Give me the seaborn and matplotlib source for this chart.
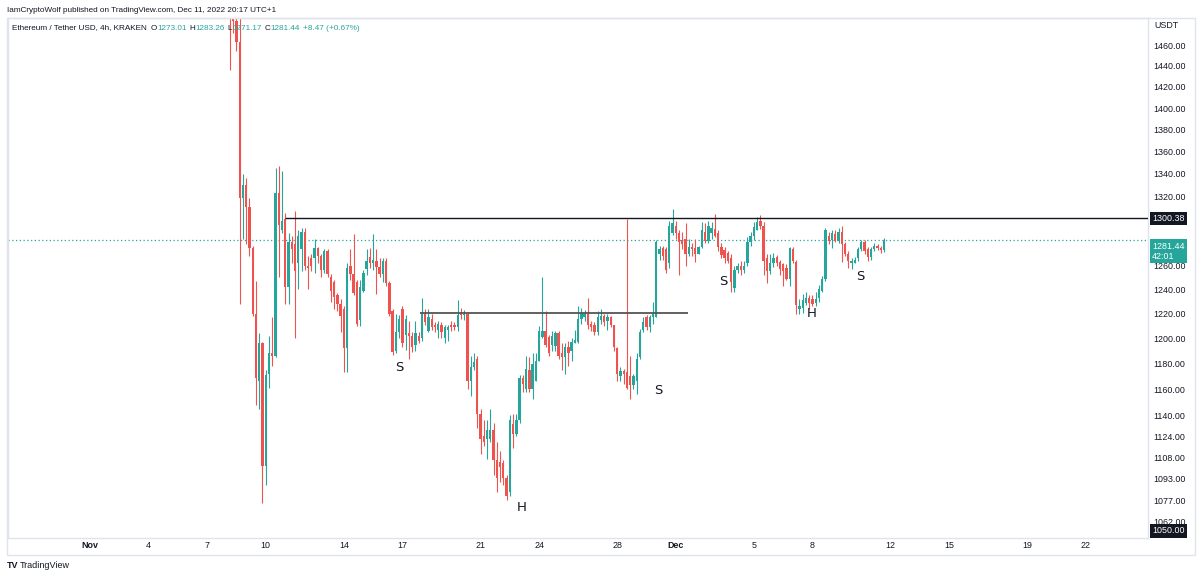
import numpy as np
import pandas as pd
import matplotlib
matplotlib.use("Agg")
import matplotlib.pyplot as plt
from matplotlib.patches import Rectangle
from matplotlib.ticker import NullLocator, FixedLocator, FixedFormatter
import seaborn as sns

# ETH/USDT 4h candles from Nov 7 2022 00:00 (UTC+1), one row per day
opens = [
    1618, 1608, 1596, 1600, 1572, 1578,
    1570, 1590, 1520, 1484, 1463, 1318,
    1330, 1310, 1275, 1220, 1166, 1196,
    1102, 1172, 1188, 1186, 1323, 1290,
    1300, 1242, 1280, 1278, 1262, 1274,
    1289, 1260, 1266, 1266, 1275, 1268,
    1256, 1272, 1250, 1246, 1235, 1228,
    1224, 1192, 1260, 1253, 1246, 1215,
    1239, 1257, 1267, 1262, 1264, 1259,
    1253, 1264, 1245, 1222, 1190, 1205,
    1224, 1203, 1204, 1202, 1195, 1202,
    1200, 1220, 1206, 1216, 1211, 1207,
    1211, 1200, 1207, 1211, 1211, 1209,
    1220, 1219, 1220, 1166, 1177, 1184,
    1141, 1124, 1122, 1122, 1129, 1106,
    1105, 1104, 1093, 1083, 1133, 1126,
    1136, 1169, 1160, 1175, 1160, 1166,
    1182, 1201, 1206, 1201, 1195, 1194,
    1204, 1188, 1185, 1193, 1190, 1196,
    1197, 1216, 1217, 1220, 1212, 1211,
    1205, 1215, 1218, 1214, 1217, 1211,
    1192, 1170, 1174, 1173, 1170, 1163,
    1166, 1185, 1207, 1217, 1209, 1217,
    1217, 1270, 1275, 1274, 1262, 1288,
    1294, 1288, 1282, 1283, 1270, 1276,
    1275, 1270, 1276, 1289, 1281, 1288,
    1291, 1288, 1276, 1273, 1271, 1266,
    1241, 1256, 1260, 1256, 1262, 1280,
    1285, 1290, 1298, 1294, 1266, 1255,
    1262, 1267, 1263, 1261, 1258, 1249,
    1274, 1263, 1224, 1225, 1229, 1233,
    1232, 1229, 1233, 1239, 1249, 1285,
    1282, 1287, 1281, 1289, 1278, 1270,
    1262, 1262, 1266, 1274, 1280, 1274,
    1267, 1274, 1277, 1275, 1273.01,
]
highs = [
    1625, 1615, 1610, 1606, 1585, 1590,
    1600, 1610, 1535, 1500, 1495, 1340,
    1336, 1318, 1277, 1247, 1204, 1197,
    1175, 1202, 1217, 1345, 1347, 1342,
    1305, 1288, 1285, 1307, 1290, 1292,
    1292, 1268, 1270, 1283, 1276, 1270,
    1274, 1274, 1253, 1248, 1237, 1232,
    1226, 1262, 1274, 1287, 1248, 1248,
    1256, 1274, 1275, 1287, 1274, 1266,
    1266, 1266, 1247, 1224, 1220, 1219,
    1226, 1219, 1214, 1205, 1214, 1205,
    1233, 1224, 1224, 1220, 1213, 1214,
    1213, 1211, 1211, 1214, 1213, 1231,
    1225, 1223, 1221, 1186, 1188, 1186,
    1145, 1136, 1136, 1145, 1134, 1120,
    1113, 1106, 1095, 1140, 1141, 1141,
    1171, 1171, 1186, 1185, 1188, 1188,
    1210, 1250, 1222, 1203, 1206, 1206,
    1206, 1196, 1196, 1198, 1200, 1207,
    1226, 1225, 1223, 1233, 1214, 1213,
    1222, 1224, 1220, 1220, 1218, 1211,
    1193, 1177, 1176, 1300, 1186, 1172,
    1188, 1208, 1217, 1219, 1219, 1230,
    1282, 1277, 1277, 1276, 1298, 1309,
    1298, 1290, 1289, 1296, 1283, 1279,
    1283, 1277, 1297, 1296, 1298, 1297,
    1304, 1290, 1279, 1276, 1272, 1270,
    1260, 1262, 1264, 1264, 1284, 1289,
    1297, 1302, 1303, 1297, 1270, 1270,
    1271, 1269, 1265, 1262, 1261, 1276,
    1276, 1265, 1232, 1236, 1238, 1235,
    1235, 1238, 1244, 1251, 1292, 1289,
    1290, 1290, 1292, 1294, 1280, 1272,
    1266, 1267, 1276, 1282, 1282, 1276,
    1276, 1279, 1278, 1277, 1283.26,
]
lows = [
    1600, 1590, 1585, 1565, 1560, 1568,
    1545, 1436, 1472, 1455, 1228, 1283,
    1278, 1268, 1218, 1148, 1145, 1075,
    1088, 1161, 1178, 1185, 1250, 1288,
    1228, 1228, 1262, 1200, 1240, 1255,
    1256, 1240, 1255, 1254, 1262, 1250,
    1254, 1250, 1230, 1224, 1222, 1205,
    1173, 1173, 1248, 1235, 1210, 1210,
    1238, 1252, 1258, 1256, 1236, 1250,
    1246, 1243, 1218, 1187, 1188, 1200,
    1193, 1191, 1184, 1189, 1190, 1196,
    1198, 1211, 1205, 1207, 1205, 1200,
    1200, 1196, 1198, 1206, 1207, 1206,
    1216, 1215, 1160, 1155, 1175, 1130,
    1111, 1117, 1107, 1120, 1095, 1083,
    1090, 1088, 1077, 1080, 1115, 1124,
    1134, 1158, 1158, 1158, 1152, 1166,
    1182, 1200, 1193, 1186, 1190, 1190,
    1184, 1175, 1172, 1178, 1182, 1196,
    1196, 1212, 1214, 1208, 1206, 1203,
    1203, 1212, 1210, 1207, 1209, 1190,
    1166, 1166, 1164, 1160, 1152, 1160,
    1156, 1184, 1205, 1207, 1205, 1212,
    1217, 1265, 1265, 1254, 1258, 1286,
    1283, 1252, 1274, 1260, 1268, 1268,
    1263, 1270, 1275, 1279, 1279, 1283,
    1284, 1272, 1266, 1262, 1262, 1238,
    1238, 1254, 1252, 1254, 1260, 1277,
    1282, 1290, 1291, 1252, 1245, 1253,
    1259, 1260, 1252, 1243, 1248, 1243,
    1262, 1220, 1220, 1221, 1227, 1224,
    1226, 1226, 1230, 1238, 1247, 1278,
    1275, 1280, 1279, 1263, 1268, 1258,
    1257, 1262, 1264, 1272, 1270, 1264,
    1265, 1272, 1273, 1271, 1271.17,
]
closes = [
    1608, 1596, 1600, 1572, 1578, 1570,
    1590, 1520, 1484, 1463, 1318, 1330,
    1310, 1275, 1220, 1169, 1196, 1102,
    1171, 1188, 1186, 1323, 1295, 1298,
    1242, 1280, 1274, 1255, 1285, 1289,
    1260, 1258, 1260, 1275, 1268, 1256,
    1272, 1253, 1239, 1234, 1228, 1218,
    1192, 1258, 1253, 1237, 1212, 1242,
    1254, 1264, 1262, 1265, 1259, 1253,
    1264, 1245, 1220, 1189, 1205, 1216,
    1196, 1216, 1202, 1193, 1204, 1198,
    1221, 1213, 1217, 1209, 1209, 1212,
    1205, 1209, 1209, 1209, 1209, 1219,
    1219, 1220, 1166, 1177, 1181, 1141,
    1122, 1120, 1129, 1129, 1106, 1093,
    1101, 1093, 1080, 1136, 1126, 1136,
    1169, 1164, 1176, 1160, 1180, 1182,
    1206, 1206, 1195, 1188, 1202, 1204,
    1186, 1185, 1193, 1188, 1197, 1199,
    1216, 1221, 1220, 1211, 1209, 1205,
    1217, 1218, 1213, 1217, 1211, 1193,
    1172, 1174, 1172, 1161, 1163, 1170,
    1184, 1205, 1213, 1209, 1217, 1220,
    1280, 1274, 1268, 1256, 1294, 1296,
    1288, 1280, 1278, 1270, 1276, 1274,
    1270, 1276, 1290, 1281, 1294, 1292,
    1285, 1276, 1269, 1266, 1264, 1246,
    1256, 1260, 1256, 1260, 1280, 1285,
    1293, 1297, 1294, 1264, 1255, 1262,
    1266, 1262, 1257, 1255, 1249, 1275,
    1264, 1227, 1226, 1231, 1233, 1229,
    1228, 1232, 1240, 1249, 1290, 1281,
    1288, 1281, 1289, 1278, 1270, 1264,
    1264, 1265, 1274, 1280, 1272, 1267,
    1274, 1277, 1275, 1273, 1281.44,
]

tick_pos = [-36, -18, 0, 18, 42, 60, 84, 102, 126, 144, 168, 186, 210, 228, 252, 270]
tick_labels = ["Nov", "4", "7", "10", "14", "17", "21", "24", "28", "Dec",
               "5", "8", "12", "15", "19", "22"]
price_ticks = [1460, 1440, 1420, 1400, 1380, 1360, 1340, 1320, 1260, 1240, 1220,
               1200, 1180, 1160, 1140, 1124, 1108, 1093, 1077, 1062]

resistance = 1300.38
neckline = 1221
last_price = 1281.44
pattern_labels = [("S", 59, 1177), ("H", 96.7, 1072), ("S", 138.5, 1159),
                  ("S", 158.5, 1247), ("H", 185.8, 1220), ("S", 200.6, 1251)]

GREEN = "#26a69a"
RED = "#ef5350"
TXT = "#131722"
FRAME = "#e0e3eb"

sns.set_theme(style="white")
plt.rcParams["font.family"] = ["Liberation Sans", "DejaVu Sans"]

W, H = 1200, 577
fig = plt.figure(figsize=(W / 100, H / 100), dpi=100)
ax = fig.add_axes([8 / W, (H - 538) / H, 1140 / W, 520 / H])

df = pd.DataFrame({"o": opens, "h": highs, "l": lows, "c": closes})
df["x"] = np.arange(len(df))
col = np.where(df.c >= df.o, GREEN, RED)
ax.vlines(df.x, df.l, df.h, colors=col, lw=0.8, zorder=2)
body_low = np.minimum(df.o, df.c)
body_h = np.maximum((df.c - df.o).abs(), 1.0)
ax.bar(df.x, body_h, bottom=body_low, width=0.72, color=col, linewidth=0, zorder=3)

ax.set_yscale("log")
ax.set_xlim(-61.2, 289.1)
ax.set_ylim(1050, 1487)

ax.hlines(resistance, 24, 289.1, color="#131722", lw=1.0, zorder=4)
ax.hlines(neckline, 65.5, 147.8, color="#555555", lw=1.3, zorder=4)
ax.axhline(last_price, color=GREEN, lw=0.9, ls=(0, (1, 2)), zorder=1)

for s, x, y in pattern_labels:
    ax.text(x, y, s, fontsize=9.5, color=TXT, ha="center", va="center",
            family=["DejaVu Sans"])

ax.yaxis.tick_right()
ax.yaxis.set_minor_locator(NullLocator())
ax.yaxis.set_major_locator(FixedLocator(price_ticks))
ax.yaxis.set_major_formatter(FixedFormatter([f"{p:.2f}" for p in price_ticks]))
ax.set_xticks(tick_pos)
ax.set_xticklabels(tick_labels)
for lab in ax.get_xticklabels():
    if lab.get_text() in ("Nov", "Dec"):
        lab.set_fontweight("bold")
ax.tick_params(axis="y", length=0, pad=4, labelsize=6.4, labelcolor=TXT)
ax.tick_params(axis="x", length=0, pad=2.5, labelsize=6.4, labelcolor=TXT)
ax.grid(False)
for sp in ax.spines.values():
    sp.set_color(FRAME)
    sp.set_linewidth(1)

box_kw = dict(xycoords=("axes fraction", "data"), textcoords="offset points",
              ha="left", va="center", fontsize=6.4, color="white")
ax.annotate(f"{resistance:.2f}", xy=(1.0, resistance), xytext=(3, 0),
            bbox=dict(boxstyle="square,pad=0.25", fc="#131722", ec="none"), **box_kw)
ax.annotate(f"{last_price:.2f}\n42:01", xy=(1.0, 1272), xytext=(3, 0), linespacing=1.1,
            bbox=dict(boxstyle="square,pad=0.3", fc=GREEN, ec="none"), **box_kw)
ax.annotate("1050.00", xy=(1.0, 1055), xytext=(3, 0),
            bbox=dict(boxstyle="square,pad=0.25", fc="#131722", ec="none"), **box_kw)
ax.text(1.006, 0.985, "USDT", transform=ax.transAxes, fontsize=6.4, color=TXT,
        ha="left", va="center")

fig.add_artist(Rectangle((7 / W, (H - 555) / H), 1188 / W, 537 / H,
                         transform=fig.transFigure, fill=False, ec=FRAME, lw=1))

fig.text(7 / W, 1 - 10 / H, "IamCryptoWolf published on TradingView.com, Dec 11, 2022 20:17 UTC+1",
         fontsize=5.9, color=TXT, ha="left", va="center")

# legend row: each piece placed right after the previous one
legend_parts = [("Ethereum / Tether USD, 4h, KRAKEN", TXT, 0), ("O", TXT, 4),
                ("1273.01", GREEN, 0), ("H", TXT, 3), ("1283.26", GREEN, 0),
                ("L", TXT, 3), ("1271.17", GREEN, 0), ("C", TXT, 3),
                ("1281.44", GREEN, 0), ("+8.47 (+0.67%)", GREEN, 3)]
fig.canvas.draw()
renderer = fig.canvas.get_renderer()
cursor = 12
for s, c, gap in legend_parts:
    cursor += gap
    t = fig.text(cursor / W, 1 - 28 / H, s, fontsize=5.9, color=c, ha="left", va="center")
    cursor = t.get_window_extent(renderer).x1

fig.text(7 / W, 1 - 566 / H, "TV", fontsize=6.5, fontweight="bold", color=TXT,
         ha="left", va="center")
fig.text(20 / W, 1 - 566 / H, "TradingView", fontsize=6.5, color=TXT,
         ha="left", va="center")

fig.savefig("out.png", dpi=100, facecolor="white")
